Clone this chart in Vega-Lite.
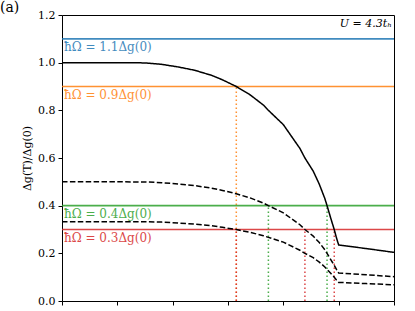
{
  "$schema": "https://vega.github.io/schema/vega-lite/v6.json",
  "width": 332,
  "height": 286,
  "autosize": {"type": "none"},
  "padding": {"left": 62, "top": 15, "right": 21, "bottom": 10},
  "background": "white",
  "config": {
    "view": {"stroke": "black", "strokeWidth": 1},
    "font": "DejaVu Serif",
    "text": {"font": "DejaVu Serif", "fontWeight": "normal"},
    "axis": {"labelFont": "DejaVu Serif", "titleFont": "DejaVu Serif", "domainColor": "black", "tickColor": "black", "labelColor": "black", "titleColor": "black", "grid": false}
  },
  "datasets": {
    "curves": [
      {"x": 0, "y": 1.0, "s": "a"}, {"x": 1.0, "y": 1.0, "s": "a"}, {"x": 1.5, "y": 0.999, "s": "a"}, {"x": 1.8, "y": 0.993, "s": "a"}, {"x": 2.1, "y": 0.982, "s": "a"}, {"x": 2.4, "y": 0.968, "s": "a"}, {"x": 2.7, "y": 0.947, "s": "a"}, {"x": 2.9, "y": 0.928, "s": "a"}, {"x": 3.15, "y": 0.9, "s": "a"}, {"x": 3.4, "y": 0.865, "s": "a"}, {"x": 3.64, "y": 0.822, "s": "a"}, {"x": 3.73, "y": 0.8, "s": "a"}, {"x": 4.0, "y": 0.74, "s": "a"}, {"x": 4.3, "y": 0.64, "s": "a"}, {"x": 4.39, "y": 0.6, "s": "a"}, {"x": 4.54, "y": 0.545, "s": "a"}, {"x": 4.65, "y": 0.49, "s": "a"}, {"x": 4.75, "y": 0.43, "s": "a"}, {"x": 4.79, "y": 0.4, "s": "a"}, {"x": 4.86, "y": 0.345, "s": "a"}, {"x": 4.92, "y": 0.3, "s": "a"}, {"x": 4.96, "y": 0.265, "s": "a"}, {"x": 5.0, "y": 0.235, "s": "a"}, {"x": 5.5, "y": 0.22, "s": "a"}, {"x": 6.0, "y": 0.204, "s": "a"},
      {"x": 0, "y": 0.5, "s": "b"}, {"x": 1.0, "y": 0.5, "s": "b"}, {"x": 1.5, "y": 0.4995, "s": "b"}, {"x": 1.8, "y": 0.4965, "s": "b"}, {"x": 2.1, "y": 0.491, "s": "b"}, {"x": 2.4, "y": 0.484, "s": "b"}, {"x": 2.7, "y": 0.4735, "s": "b"}, {"x": 2.9, "y": 0.464, "s": "b"}, {"x": 3.15, "y": 0.45, "s": "b"}, {"x": 3.4, "y": 0.4325, "s": "b"}, {"x": 3.64, "y": 0.411, "s": "b"}, {"x": 3.73, "y": 0.4, "s": "b"}, {"x": 4.0, "y": 0.37, "s": "b"}, {"x": 4.3, "y": 0.32, "s": "b"}, {"x": 4.39, "y": 0.3, "s": "b"}, {"x": 4.54, "y": 0.2725, "s": "b"}, {"x": 4.65, "y": 0.245, "s": "b"}, {"x": 4.75, "y": 0.215, "s": "b"}, {"x": 4.79, "y": 0.2, "s": "b"}, {"x": 4.86, "y": 0.1725, "s": "b"}, {"x": 4.92, "y": 0.15, "s": "b"}, {"x": 4.96, "y": 0.1325, "s": "b"}, {"x": 5.0, "y": 0.1175, "s": "b"}, {"x": 5.5, "y": 0.11, "s": "b"}, {"x": 6.0, "y": 0.102, "s": "b"},
      {"x": 0, "y": 0.333, "s": "c"}, {"x": 1.0, "y": 0.333, "s": "c"}, {"x": 1.5, "y": 0.333, "s": "c"}, {"x": 1.8, "y": 0.331, "s": "c"}, {"x": 2.1, "y": 0.327, "s": "c"}, {"x": 2.4, "y": 0.323, "s": "c"}, {"x": 2.7, "y": 0.316, "s": "c"}, {"x": 2.9, "y": 0.309, "s": "c"}, {"x": 3.15, "y": 0.3, "s": "c"}, {"x": 3.4, "y": 0.288, "s": "c"}, {"x": 3.64, "y": 0.274, "s": "c"}, {"x": 3.73, "y": 0.267, "s": "c"}, {"x": 4.0, "y": 0.247, "s": "c"}, {"x": 4.3, "y": 0.213, "s": "c"}, {"x": 4.39, "y": 0.2, "s": "c"}, {"x": 4.54, "y": 0.182, "s": "c"}, {"x": 4.65, "y": 0.163, "s": "c"}, {"x": 4.75, "y": 0.143, "s": "c"}, {"x": 4.79, "y": 0.133, "s": "c"}, {"x": 4.86, "y": 0.115, "s": "c"}, {"x": 4.92, "y": 0.1, "s": "c"}, {"x": 4.96, "y": 0.088, "s": "c"}, {"x": 5.0, "y": 0.078, "s": "c"}, {"x": 5.5, "y": 0.073, "s": "c"}, {"x": 6.0, "y": 0.068, "s": "c"}
    ],
    "hlines": [
      {"y": 1.1, "x0": 0, "c": "blue", "label": "ħΩ = 1.1Δg(0)"},
      {"y": 0.9, "x0": 0, "c": "orange", "label": "ħΩ = 0.9Δg(0)"},
      {"y": 0.4, "x0": 0, "c": "green", "label": "ħΩ = 0.4Δg(0)"},
      {"y": 0.3, "x0": 0, "c": "red", "label": "ħΩ = 0.3Δg(0)"}
    ],
    "vlines": [
      {"x": 3.15, "bot": 0, "top": 0.9, "c": "orange"},
      {"x": 3.73, "bot": 0, "top": 0.4, "c": "green"},
      {"x": 4.79, "bot": 0, "top": 0.4, "c": "green"},
      {"x": 3.15, "bot": 0, "top": 0.3, "c": "red"},
      {"x": 4.39, "bot": 0, "top": 0.3, "c": "red"},
      {"x": 4.92, "bot": 0, "top": 0.3, "c": "red"}
    ],
    "notes": [
      {"x": 6, "y": 1.2, "t": "U = 4.3tₕ", "pos": "right"},
      {"x": 0, "y": 1.2, "t": "(a)", "pos": "left"}
    ]
  },
  "layer": [
    {
      "data": {"name": "vlines"},
      "mark": {"type": "rule", "strokeWidth": 1.5, "strokeDash": [1.5, 2.5], "opacity": 0.85},
      "encoding": {
        "x": {"field": "x", "type": "quantitative", "scale": {"domain": [0, 6], "nice": false}, "axis": {"values": [0, 1, 2, 3, 4, 5, 6], "labels": false, "title": null, "tickSize": 4, "domain": false}},
        "y": {"field": "bot", "type": "quantitative", "scale": {"domain": [0, 1.2], "nice": false}, "axis": {"values": [0, 0.2, 0.4, 0.6, 0.8, 1.0, 1.2], "format": ".1f", "title": "Δg(T)/Δg(0)", "labelFontSize": 11, "titleFontSize": 11, "titleFontWeight": "normal", "tickSize": 4, "labelPadding": 3, "titlePadding": 5, "domain": false}},
        "y2": {"field": "top"},
        "color": {"field": "c", "type": "nominal", "scale": {"domain": ["blue", "orange", "green", "red"], "range": ["#1f77b4", "#ff7f0e", "#2ca02c", "#d62728"]}, "legend": null}
      }
    },
    {
      "data": {"name": "hlines"},
      "mark": {"type": "rule", "strokeWidth": 1.6, "opacity": 0.85},
      "encoding": {
        "y": {"field": "y", "type": "quantitative"},
        "color": {"field": "c", "type": "nominal", "legend": null}
      }
    },
    {
      "data": {"name": "hlines"},
      "mark": {"type": "text", "align": "left", "baseline": "top", "dx": 2, "dy": 3, "fontSize": 12, "opacity": 0.85},
      "encoding": {
        "x": {"field": "x0", "type": "quantitative"},
        "y": {"field": "y", "type": "quantitative"},
        "text": {"field": "label"},
        "color": {"field": "c", "type": "nominal", "legend": null}
      }
    },
    {
      "data": {"name": "curves"},
      "mark": {"type": "line", "strokeWidth": 1.5, "color": "black"},
      "encoding": {
        "x": {"field": "x", "type": "quantitative"},
        "y": {"field": "y", "type": "quantitative"},
        "detail": {"field": "s", "type": "nominal"},
        "strokeDash": {"field": "s", "type": "nominal", "scale": {"domain": ["a", "b", "c"], "range": [[1, 0], [5.5, 2.4], [5.5, 2.4]]}, "legend": null}
      }
    },
    {
      "data": {"name": "notes"},
      "transform": [{"filter": "datum.pos == 'right'"}],
      "mark": {"type": "text", "align": "right", "baseline": "top", "dx": -2, "dy": 3, "fontSize": 11, "fontStyle": "italic", "color": "black"},
      "encoding": {
        "x": {"field": "x", "type": "quantitative"},
        "y": {"field": "y", "type": "quantitative"},
        "text": {"field": "t"}
      }
    },
    {
      "data": {"name": "notes"},
      "transform": [{"filter": "datum.pos == 'left'"}],
      "mark": {"type": "text", "align": "left", "baseline": "alphabetic", "dx": -62, "dy": -3, "fontSize": 14, "color": "black"},
      "encoding": {
        "x": {"field": "x", "type": "quantitative"},
        "y": {"field": "y", "type": "quantitative"},
        "text": {"field": "t"}
      }
    }
  ]
}
